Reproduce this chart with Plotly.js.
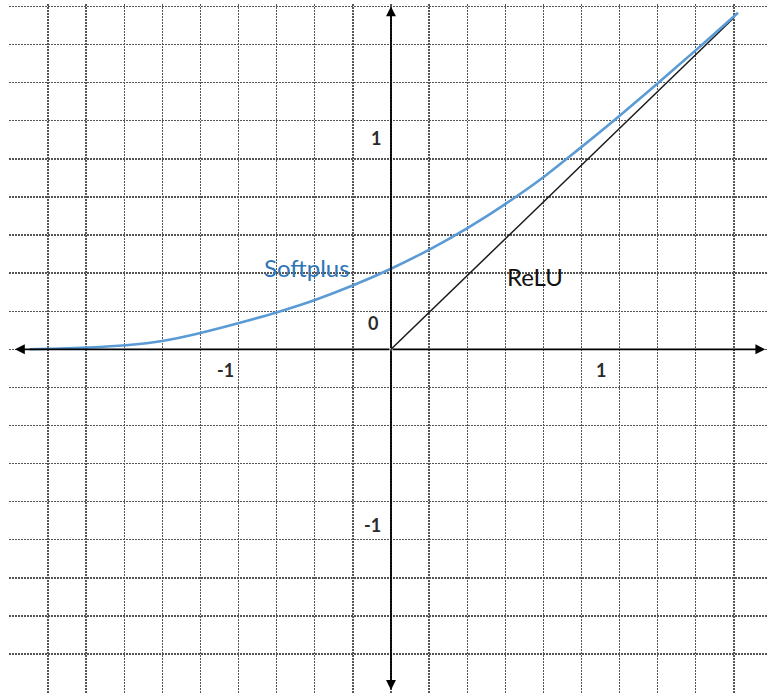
<!DOCTYPE html>
<html>
<head>
<meta charset="utf-8">
<script src="https://cdn.plot.ly/plotly-3.0.1.min.js"></script>
<style>
  html, body { margin: 0; padding: 0; background: #ffffff; }
  #chart { width: 767px; height: 693px; }
</style>
</head>
<body>
<div id="chart"></div>
<script>
// Softplus curve (x, y in axis units; 3 grid cells = 1 unit)
const softplusX = [-3.16, -2.99, -2.66, -2.32, -1.99, -1.66, -1.33, -0.995, -0.665, -0.33, 0.0, 0.34, 0.676, 1.006, 1.339, 1.654, 2.003, 2.339, 2.675, 3.036];
const softplusY = [0.0, 0.005, 0.015, 0.035, 0.075, 0.145, 0.23, 0.325, 0.432, 0.56, 0.705, 0.875, 1.065, 1.275, 1.51, 1.76, 2.046, 2.332, 2.624, 2.945];

// ReLU line
const reluX = [0, 3.0];
const reluY = [0, 2.9];

// Series labels
const seriesNames = ["Softplus", "ReLU"];
const seriesLabelX = [-0.735, 1.26];
const seriesLabelY = [0.72, 0.633];

// Axis number labels
const tickText = ["0", "1", "-1", "-1", "1"];
const tickX = [-0.157, -0.131, -0.166, -1.444, 1.837];
const tickY = [0.23, 1.849, -1.537, -0.181, -0.181];

// Axis arrow tips
const arrowTipX = [-3.29, 3.275, 0, 0];
const arrowTipY = [0, 0, 3.0, -2.98];

const traces = [
  { x: reluX, y: reluY, mode: "lines", line: { color: "#1a1a1a", width: 1.5 }, hoverinfo: "skip" },
  { x: softplusX, y: softplusY, mode: "lines", line: { color: "#5B9BD5", width: 2.6, shape: "spline", smoothing: 1 }, hoverinfo: "skip" }
];

const annotations = [];
arrowTipX.forEach((tx, i) => {
  annotations.push({
    x: tx, y: arrowTipY[i], xref: "x", yref: "y",
    ax: 0, ay: 0, axref: "x", ayref: "y",
    text: "", showarrow: true, arrowhead: 2, arrowsize: 1.1, arrowwidth: 1.8,
    arrowcolor: "#000000", standoff: 0, startstandoff: 0
  });
});
annotations.push({
  x: seriesLabelX[0], y: seriesLabelY[0], xref: "x", yref: "y", text: seriesNames[0],
  showarrow: false, font: { family: "Lato, 'Open Sans', sans-serif", size: 24, color: "#2E75B6" }
});
annotations.push({
  x: seriesLabelX[1], y: seriesLabelY[1], xref: "x", yref: "y", text: seriesNames[1],
  showarrow: false, font: { family: "Lato, 'Open Sans', sans-serif", size: 24, color: "#111111" }
});
tickText.forEach((t, i) => {
  annotations.push({
    x: tickX[i], y: tickY[i], xref: "x", yref: "y", text: "<b>" + t + "</b>",
    showarrow: false, font: { family: "Lato, 'Open Sans', sans-serif", size: 18, color: "#2a2a2a" }
  });
});

const gridStyle = { showgrid: true, gridcolor: "#555555", gridwidth: 1.4, griddash: "1.5px,1.5px",
  zeroline: false, showline: false, showticklabels: false, ticks: "", tick0: 0, dtick: 1/3, fixedrange: true };

const layout = {
  width: 767, height: 693,
  margin: { l: 9, r: 0, t: 4, b: 0, pad: 0 },
  paper_bgcolor: "#ffffff", plot_bgcolor: "#ffffff",
  showlegend: false,
  xaxis: Object.assign({}, gridStyle, { range: [-3.342, 3.2896] }),
  yaxis: Object.assign({}, gridStyle, { range: [-3.007, 3.021] }),
  annotations: annotations
};

Plotly.newPlot("chart", traces, layout, { staticPlot: true, displayModeBar: false });
</script>
</body>
</html>
